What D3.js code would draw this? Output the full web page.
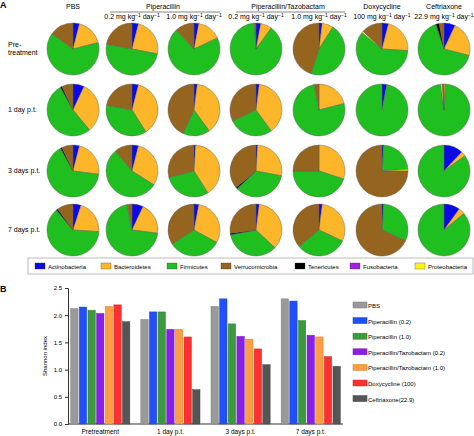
<!DOCTYPE html>
<html><head><meta charset="utf-8">
<script src="https://cdn.jsdelivr.net/npm/d3@7"></script>
<style>body{margin:0;background:#fff}svg{font-family:"Liberation Sans",Arial,sans-serif}</style>
</head><body><div id="chart"></div>
<script>
// phyla, in pie order (clockwise from 12 o'clock)
const phyla = ["Actinobacteria","Bacteroidetes","Firmicutes","Proteobacteria","Tenericutes","Verrucomicrobia"];
const phylumColors = {Actinobacteria:"#0a0ae6",Bacteroidetes:"#fdb52a",Firmicutes:"#1fbf1f",Verrucomicrobia:"#95651f",Tenericutes:"#000000",Fusobacteria:"#a51fe0",Proteobacteria:"#fff21a"};
const legendOrder = ["Actinobacteria","Bacteroidetes","Firmicutes","Verrucomicrobia","Tenericutes","Fusobacteria","Proteobacteria"];
const timepoints = ["Pre-\ntreatment","1 day p.t.","3 days p.t.","7 days p.t."];
// one row per time point, one entry per treatment: [Act, Bac, Fir, Pro, Ten, Ver]
const pieRows = [
  [[4,17,64,0,0,15],[4,24,50,0,0,22],[3,15,70,0,0,12],[3,7,89,0,0,1],[2,7,46,0,0,45],[4,22,60,1,0,13],[7,22,66,0,2,3]],
  [[7,32,53,0,1,7],[4,37,37,0,0,22],[2,38,17,0,0,43],[2,38,28,0,0,32],[0,21,76,0,0,3],[3,0,97,0,0,0],[0,1,97,1,0,1]],
  [[4,23,65,0,1,7],[4,30,55,0,0,11],[1,40,30,0,0,29],[1,27,35,0,1,36],[0,30,45,0,0,25],[1,0,23,1,0,75],[12,3,85,0,0,0]],
  [[5,21,63,0,1,10],[7,20,70,0,0,3],[3,30,33,0,0,34],[2,35,35,0,1,27],[2,30,32,0,0,36],[1,0,31,0,0,68],[10,4,86,0,0,0]]
];
// Shannon index
const groups = ["Pretreatment","1 day p.t.","3 days p.t.","7 days p.t."];
const treatments = ["PBS","Piperacillin (0.2)","Piperacillin (1.0)","Piperacillin/Tazobactam (0.2)","Piperacillin/Tazobactam (1.0)","Doxycycline (100)","Ceftriaxone(22.9)"];
const treatColors = ["#9a9a9a","#1f4fff","#3b9a3b","#8a1fe8","#ff9d40","#ff3030","#555555"];
const shannon = [
  [2.12,2.15,2.09,2.03,2.16,2.19,1.88],
  [1.92,2.06,2.06,1.74,1.74,1.60,0.63],
  [2.16,2.30,1.84,1.61,1.56,1.38,1.09],
  [2.30,2.26,1.90,1.63,1.60,1.24,1.06]
];

const svg = d3.select("#chart").append("svg").attr("width",474).attr("height",436);

// ---- panel A
svg.append("text").attr("x",0).attr("y",8).attr("font-weight","bold").attr("font-size",9).text("A");
const colX = [73,132,194,256,319,382,444], rowY = [49,110,171,230], R = 26;
const fs = 7;
const hdr = svg.append("g").attr("font-size",fs).attr("text-anchor","middle");
hdr.append("text").attr("x",73).attr("y",9).text("PBS");
hdr.append("text").attr("x",163).attr("y",9).text("Piperacillin");
hdr.append("text").attr("x",288).attr("y",9).text("Piperacillin/Tazobactam");
hdr.append("text").attr("x",382).attr("y",9).text("Doxycycline");
hdr.append("text").attr("x",444).attr("y",9).text("Ceftriaxone");
[[110,220],[236,345]].forEach(([a,b]) => hdr.append("line").attr("x1",a).attr("x2",b).attr("y1",12).attr("y2",12).attr("stroke","#333").attr("stroke-width",0.6));
const dose = (d) => `${d} mg kg<tspan dy="-2" font-size="5">−1</tspan><tspan dy="2"> day</tspan><tspan dy="-2" font-size="5">−1</tspan>`;
[[132,"0.2"],[194,"1.0"],[256,"0.2"],[319,"1.0"],[382,"100"],[444,"22.9"]].forEach(([x,d]) =>
  hdr.append("text").attr("x",x).attr("y",19).html(dose(d)));

timepoints.forEach((t,i) => {
  const lines = t.split("\n");
  const tx = svg.append("text").attr("font-size",fs).attr("x",8).attr("y",rowY[i]+2-(lines.length-1)*4);
  lines.forEach((l,k) => tx.append("tspan").attr("x",8).attr("dy",k?8:0).text(l));
});

const pie = d3.pie().sort(null).value(d => d.v);
const arc = d3.arc().innerRadius(0).outerRadius(R);
pieRows.forEach((row,i) => row.forEach((vals,j) => {
  const g = svg.append("g").attr("transform",`translate(${colX[j]},${rowY[i]})`);
  g.selectAll("path").data(pie(vals.map((v,k) => ({k:phyla[k],v}))).filter(d => d.data.v>0)).join("path")
    .attr("d",arc).attr("fill",d => phylumColors[d.data.k]).attr("stroke","#555").attr("stroke-width",0.4);
}));

// legend A
svg.append("rect").attr("x",28).attr("y",258).attr("width",445).attr("height",16).attr("fill","none").attr("stroke","#aaa").attr("stroke-width",0.8);
const legX = [35,101,167,221,295,350,415];
legendOrder.forEach((p,i) => {
  svg.append("rect").attr("x",legX[i]).attr("y",263).attr("width",10).attr("height",6).attr("fill",phylumColors[p]).attr("stroke","#333").attr("stroke-width",0.3);
  svg.append("text").attr("x",legX[i]+13).attr("y",269).attr("font-size",fs-1).text(p);
});

// ---- panel B
svg.append("text").attr("x",0).attr("y",292).attr("font-weight","bold").attr("font-size",9).text("B");
const y = d3.scaleLinear().domain([0,2.5]).range([424,288]);
const x0 = d3.scaleBand().domain(groups).range([68,343]).paddingInner(0.12).paddingOuter(0.02);
const x1 = d3.scaleBand().domain(treatments).range([0,x0.bandwidth()]).padding(0.15);

const yAx = svg.append("g").attr("transform","translate(68,0)")
  .call(d3.axisLeft(y).tickValues([0,0.5,1,1.5,2,2.5]).tickFormat(d3.format(".1f")).tickSize(3));
yAx.selectAll("text").attr("font-size",fs-1);
yAx.selectAll("line,path").attr("stroke","#333");
svg.append("line").attr("x1",68).attr("x2",343).attr("y1",424).attr("y2",424).attr("stroke","#333");
svg.append("text").attr("transform","translate(47,356) rotate(-90)").attr("text-anchor","middle").attr("font-size",fs-1).text("Shannon index");

groups.forEach((g,gi) => {
  svg.append("g").selectAll("rect").data(shannon[gi]).join("rect")
    .attr("x",(d,k) => x0(g)+x1(treatments[k])).attr("width",x1.bandwidth())
    .attr("y",d => y(d)).attr("height",d => 424-y(d))
    .attr("fill",(d,k) => treatColors[k]).attr("stroke",(d,k) => d3.color(treatColors[k]).darker(0.6)).attr("stroke-width",0.5);
  svg.append("text").attr("x",x0(g)+x0.bandwidth()/2).attr("y",434).attr("text-anchor","middle").attr("font-size",fs-0.5).text(g);
});

treatments.forEach((t,i) => {
  const ly = 302 + i*15.6;
  svg.append("rect").attr("x",353).attr("y",ly).attr("width",14).attr("height",6).attr("fill",treatColors[i]).attr("stroke",d3.color(treatColors[i]).darker(0.6)).attr("stroke-width",0.5);
  svg.append("text").attr("x",368).attr("y",ly+6).attr("font-size",fs-1).text(t);
});
</script></body></html>
